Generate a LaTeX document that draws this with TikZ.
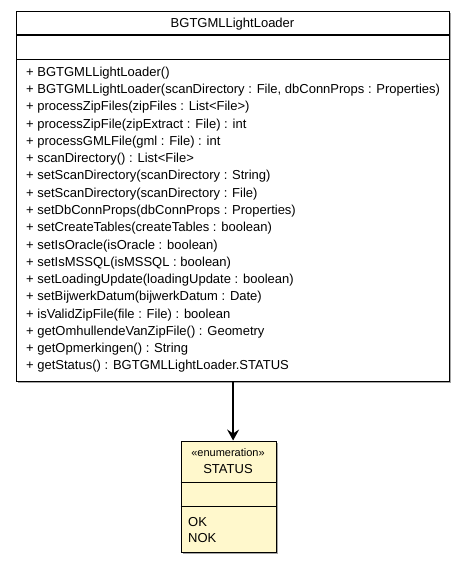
\documentclass[tikz,border=0pt]{standalone}
\usepackage{xcolor}
\usepackage{fontspec}
\setmainfont{Liberation Sans}
\usepackage{tikz}
\usetikzlibrary{arrows.meta, positioning}

\begin{document}
\begin{tikzpicture}[x=1pt, y=-1pt, font=\fontsize{13}{15}\selectfont]
  \definecolor{enumyellow}{HTML}{FFF8CC}
  \tikzset{
    umlbox/.style={draw=black, line width=1.2pt, inner sep=0pt, anchor=north west},
    member/.style={anchor=base west, inner sep=0pt},
  }
  \useasboundingbox (0,0) rectangle (465,561);

  % class box with shadow
  \fill[gray!70] (18,13) rectangle (451,383);
  \node[umlbox, fill=white, minimum width=433pt, minimum height=370pt] (loader) at (16,11) {};
  \draw[line width=2pt] (16,35.5) -- (449,35.5);
  \draw[line width=1.2pt] (16,59.5) -- (449,59.5);

  \node[anchor=base, inner sep=0pt] (loadertitle) at (232.5,28) {BGTGMLLightLoader};

  \node[member] (m1) at (26,76.5) {+ BGTGMLLightLoader()};
  \node[member] (m2) at (26,93.75) {+ BGTGMLLightLoader(scanDirectory : File, dbConnProps : Properties)};
  \node[member] (m3) at (26,111) {+ processZipFiles(zipFiles : List<File>)};
  \node[member] (m4) at (26,128.25) {+ processZipFile(zipExtract : File) : int};
  \node[member] (m5) at (26,145.5) {+ processGMLFile(gml : File) : int};
  \node[member] (m6) at (26,162.75) {+ scanDirectory() : List<File>};
  \node[member] (m7) at (26,180) {+ setScanDirectory(scanDirectory : String)};
  \node[member] (m8) at (26,197.25) {+ setScanDirectory(scanDirectory : File)};
  \node[member] (m9) at (26,214.5) {+ setDbConnProps(dbConnProps : Properties)};
  \node[member] (m10) at (26,231.75) {+ setCreateTables(createTables : boolean)};
  \node[member] (m11) at (26,249) {+ setIsOracle(isOracle : boolean)};
  \node[member] (m12) at (26,266.25) {+ setIsMSSQL(isMSSQL : boolean)};
  \node[member] (m13) at (26,283.5) {+ setLoadingUpdate(loadingUpdate : boolean)};
  \node[member] (m14) at (26,300.75) {+ setBijwerkDatum(bijwerkDatum : Date)};
  \node[member] (m15) at (26,318) {+ isValidZipFile(file : File) : boolean};
  \node[member] (m16) at (26,335.25) {+ getOmhullendeVanZipFile() : Geometry};
  \node[member] (m17) at (26,352.5) {+ getOpmerkingen() : String};
  \node[member] (m18) at (26,369.75) {+ getStatus() : BGTGMLLightLoader.STATUS};

  % enumeration box
  \fill[gray!70] (182.5,442.5) rectangle (277.5,553.5);
  \node[umlbox, fill=enumyellow, minimum width=95pt, minimum height=111pt] (status) at (180.5,440.5) {};
  \draw[line width=1.2pt] (180.5,482.5) -- (275.5,482.5);
  \draw[line width=1.2pt] (180.5,506.5) -- (275.5,506.5);

  \node[anchor=base, inner sep=0pt] (stereo) at (228,456) {\fontsize{11}{13}\selectfont «enumeration»};
  \node[anchor=base, inner sep=0pt] (statustitle) at (228,473.5) {STATUS};
  \node[member] (ok) at (188,526) {OK};
  \node[member] (nok) at (188,542) {NOK};

  \draw[line width=1.3pt, -{Stealth[length=11pt, width=12pt, inset=4pt]}] (loader.south) -- (loader.south |- status.north);
\end{tikzpicture}
\end{document}
